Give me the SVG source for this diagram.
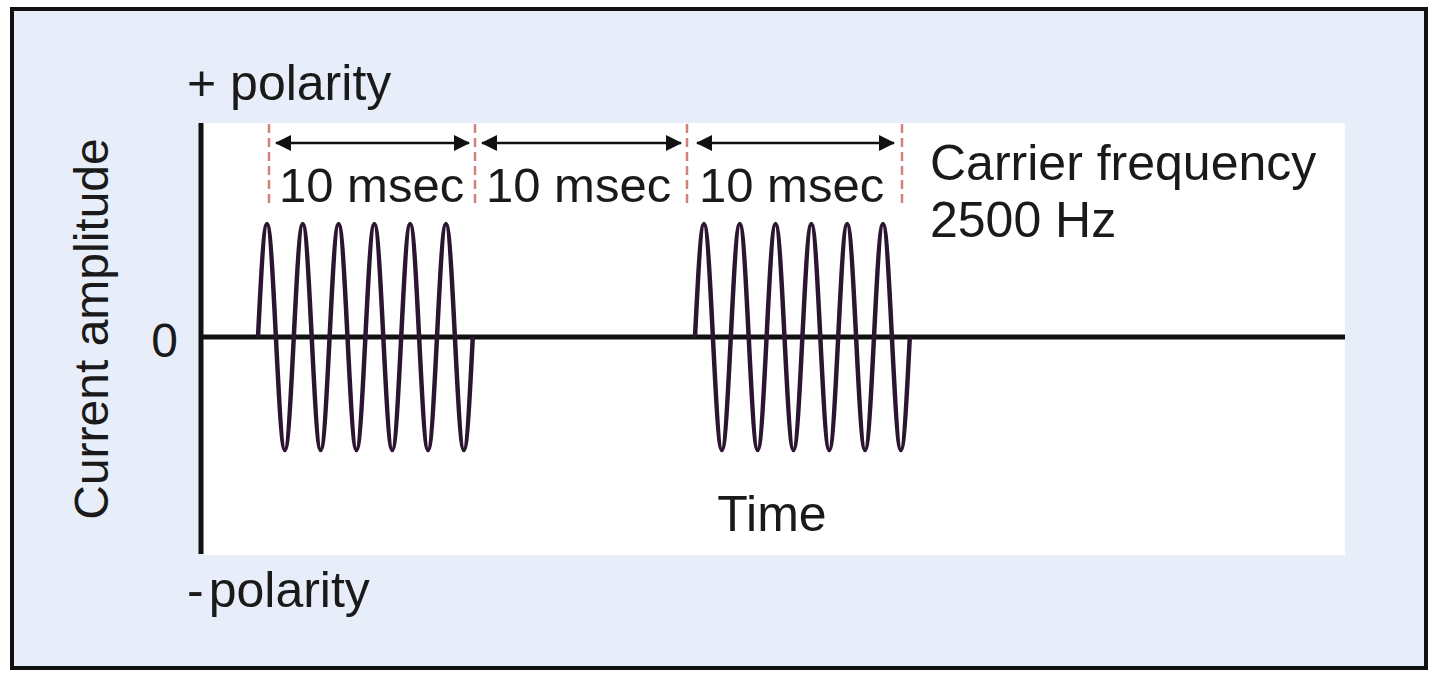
<svg xmlns="http://www.w3.org/2000/svg" width="1440" height="675" viewBox="0 0 1440 675">
<style>
text{font-family:"Liberation Sans",Arial,sans-serif;font-size:50px;fill:#1a1a1a}
.ms{font-size:49px}
.ax{font-size:48px}
.axis{stroke:#111;stroke-width:5;fill:none}
.wave{stroke:#2b1530;stroke-width:4.5;fill:none;stroke-linejoin:round}
.dash{stroke:#d4817c;stroke-width:2.5;stroke-dasharray:9 5;fill:none}
.arr{stroke:#111;stroke-width:2.5;fill:none;marker-start:url(#ah);marker-end:url(#ah)}
</style>
<defs>
<marker id="ah" viewBox="0 0 16 16" refX="15" refY="8" markerWidth="16" markerHeight="16" markerUnits="userSpaceOnUse" orient="auto-start-reverse">
<path d="M0,0 L16,8 L0,16 Z" fill="#111"/>
</marker>
</defs>
<rect x="0" y="0" width="1440" height="675" fill="#ffffff"/>
<rect id="frame" x="12" y="9" width="1414" height="659" fill="#e8eef9" stroke="#111" stroke-width="4"/>
<rect id="plot" x="203" y="123" width="1142" height="432" fill="#ffffff"/>
<g id="axes">
<line class="axis" x1="201" y1="123" x2="201" y2="554"/>
<line class="axis" x1="199" y1="337" x2="1345" y2="337"/>
</g>
<g id="markers">
<line class="dash" x1="269" y1="124" x2="269" y2="208"/>
<line class="dash" x1="475" y1="124" x2="475" y2="208"/>
<line class="dash" x1="687" y1="124" x2="687" y2="208"/>
<line class="dash" x1="902" y1="124" x2="902" y2="208"/>
</g>
<g id="connectors">
<line class="arr" x1="276" y1="143" x2="469" y2="143"/>
<line class="arr" x1="482" y1="143" x2="681" y2="143"/>
<line class="arr" x1="697" y1="143" x2="894" y2="143"/>
</g>
<g id="burst1">
<path class="wave" d="M258,337 c2.92,-57.89 5.71,-113 8.95,-113 c3.24,0 6.03,55.11 8.95,113 c2.92,57.89 5.71,113 8.95,113 c3.24,0 6.03,-55.11 8.95,-113 c2.92,-57.89 5.71,-113 8.95,-113 c3.24,0 6.03,55.11 8.95,113 c2.92,57.89 5.71,113 8.95,113 c3.24,0 6.03,-55.11 8.95,-113 c2.92,-57.89 5.71,-113 8.95,-113 c3.24,0 6.03,55.11 8.95,113 c2.92,57.89 5.71,113 8.95,113 c3.24,0 6.03,-55.11 8.95,-113 c2.92,-57.89 5.71,-113 8.95,-113 c3.24,0 6.03,55.11 8.95,113 c2.92,57.89 5.71,113 8.95,113 c3.24,0 6.03,-55.11 8.95,-113 c2.92,-57.89 5.71,-113 8.95,-113 c3.24,0 6.03,55.11 8.95,113 c2.92,57.89 5.71,113 8.95,113 c3.24,0 6.03,-55.11 8.95,-113 c2.92,-57.89 5.71,-113 8.95,-113 c3.24,0 6.03,55.11 8.95,113 c2.92,57.89 5.71,113 8.95,113 c3.24,0 6.03,-55.11 8.95,-113"/>
</g>
<g id="burst2">
<path class="wave" d="M695,337 c2.92,-57.89 5.71,-113 8.95,-113 c3.24,0 6.03,55.11 8.95,113 c2.92,57.89 5.71,113 8.95,113 c3.24,0 6.03,-55.11 8.95,-113 c2.92,-57.89 5.71,-113 8.95,-113 c3.24,0 6.03,55.11 8.95,113 c2.92,57.89 5.71,113 8.95,113 c3.24,0 6.03,-55.11 8.95,-113 c2.92,-57.89 5.71,-113 8.95,-113 c3.24,0 6.03,55.11 8.95,113 c2.92,57.89 5.71,113 8.95,113 c3.24,0 6.03,-55.11 8.95,-113 c2.92,-57.89 5.71,-113 8.95,-113 c3.24,0 6.03,55.11 8.95,113 c2.92,57.89 5.71,113 8.95,113 c3.24,0 6.03,-55.11 8.95,-113 c2.92,-57.89 5.71,-113 8.95,-113 c3.24,0 6.03,55.11 8.95,113 c2.92,57.89 5.71,113 8.95,113 c3.24,0 6.03,-55.11 8.95,-113 c2.92,-57.89 5.71,-113 8.95,-113 c3.24,0 6.03,55.11 8.95,113 c2.92,57.89 5.71,113 8.95,113 c3.24,0 6.03,-55.11 8.95,-113"/>
</g>
<g id="labels">
<text x="187" y="100">+ polarity</text>
<text x="187" y="607">-<tspan dx="5">polarity</tspan></text>
<text class="ax" x="178" y="357" text-anchor="end">0</text>
<text class="ax" transform="translate(108,329) rotate(-90)" text-anchor="middle">Current amplitude</text>
<text class="ms" x="279" y="202">10 msec</text>
<text class="ms" x="486" y="202">10 msec</text>
<text class="ms" x="699" y="202">10 msec</text>
<text x="930" y="180">Carrier frequency</text>
<text x="930" y="237">2500 Hz</text>
<text x="772" y="531" text-anchor="middle">Time</text>
</g>
</svg>
